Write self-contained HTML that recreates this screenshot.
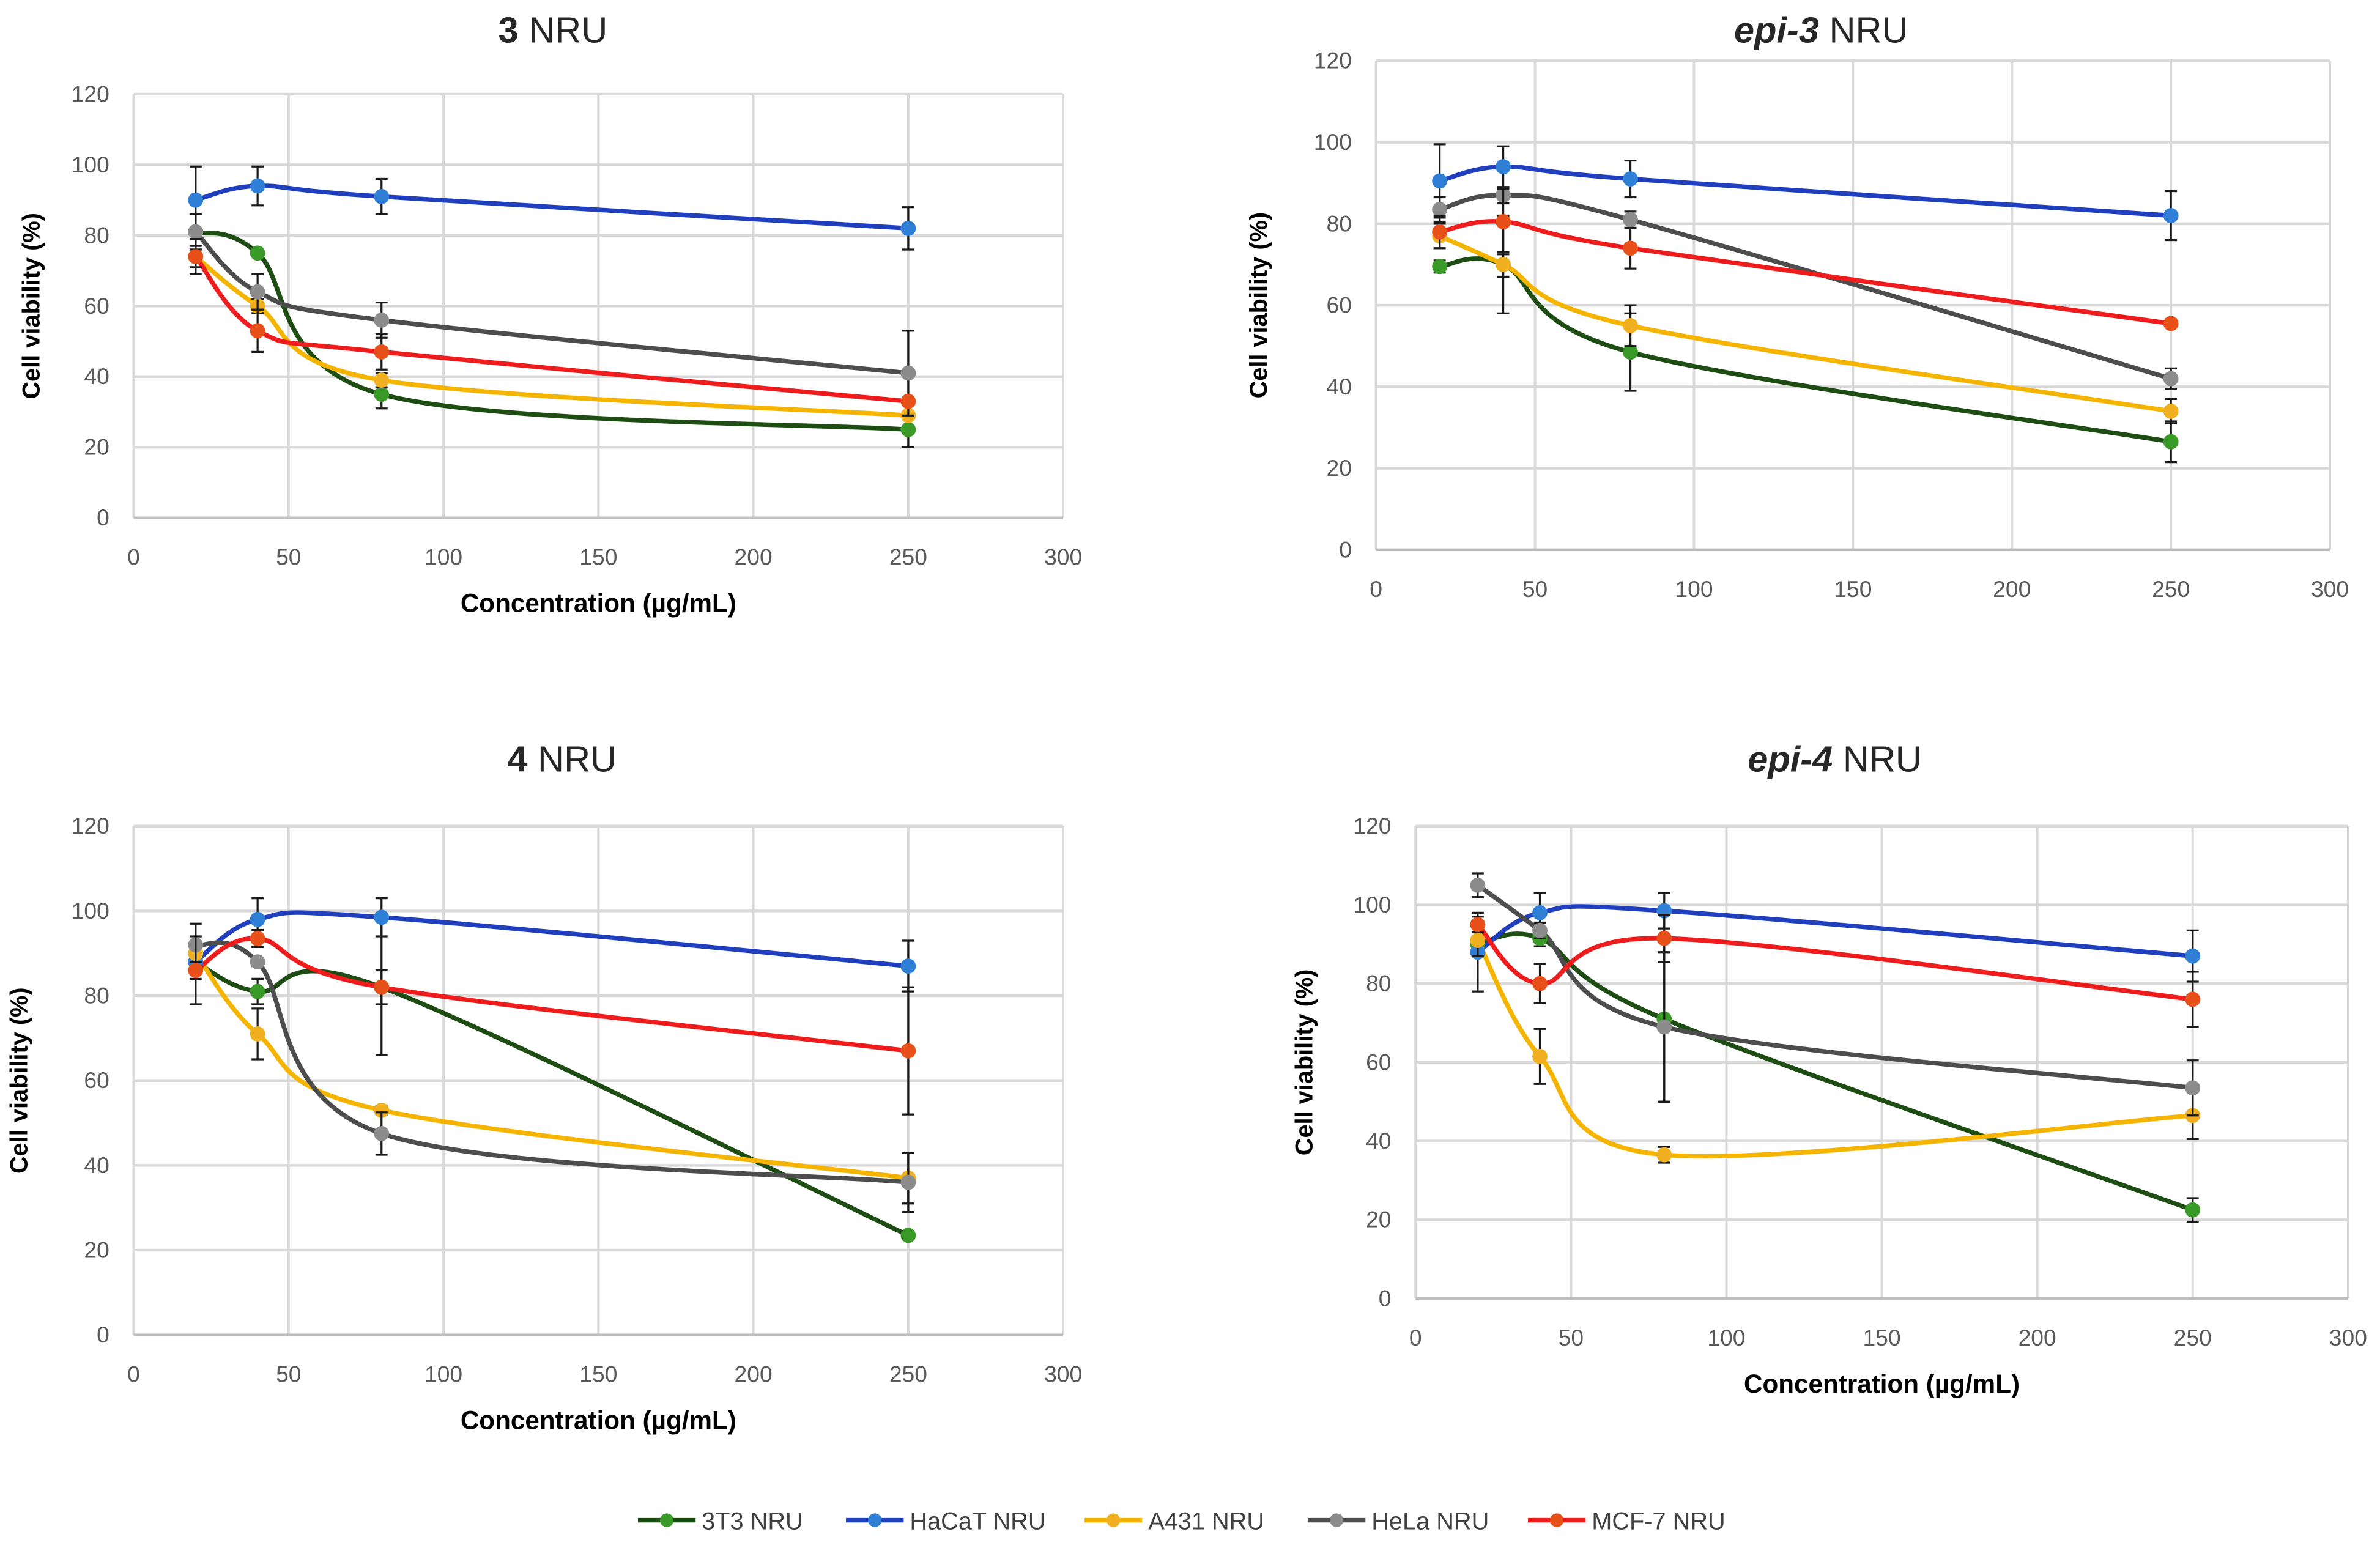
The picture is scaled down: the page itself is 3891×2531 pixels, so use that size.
<!DOCTYPE html>
<html><head><meta charset="utf-8"><style>
html,body{margin:0;padding:0;background:#fff;}
svg{display:block;}
text{font-family:"Liberation Sans",sans-serif;}
</style></head><body>
<svg id="fig" xmlns="http://www.w3.org/2000/svg" width="3891" height="2531" viewBox="0 0 1567 1019.3"></svg>
<script>
// ---- data (x = concentration µg/mL) ----
const concentrations = [20, 40, 80, 250];
const seriesNames = ["3T3 NRU", "HaCaT NRU", "A431 NRU", "HeLa NRU", "MCF-7 NRU"];
const xTicks = [0, 50, 100, 150, 200, 250, 300];
const yTicks = [0, 20, 40, 60, 80, 100, 120];

// chart "3"
const c3_3T3 = [81, 75, 35, 25];
const c3_HaCaT = [90, 94, 91, 82];
const c3_A431 = [74, 60, 39, 29];
const c3_HeLa = [81, 64, 56, 41];
const c3_MCF7 = [74, 53, 47, 33];
const c3_err_3T3 = [5, 1, 4, 5];
const c3_err_HaCaT = [9.5, 5.5, 5, 6];
const c3_err_A431 = [3, 2, 2, 1];
const c3_err_HeLa = [5, 5, 5, 12];
const c3_err_MCF7 = [5, 6, 5, 1];

// chart "epi-3"
const e3_3T3 = [69.5, 70, 48.5, 26.5];
const e3_HaCaT = [90.5, 94, 91, 82];
const e3_A431 = [77, 70, 55, 34];
const e3_HeLa = [83.5, 87, 81, 42];
const e3_MCF7 = [78, 80.5, 74, 55.5];
const e3_err_3T3 = [1.5, 12, 9.5, 5];
const e3_err_HaCaT = [9, 5, 4.5, 6];
const e3_err_A431 = [3, 3, 5, 3];
const e3_err_HeLa = [3, 2, 2, 2.5];
const e3_err_MCF7 = [4, 8, 5, 1];

// chart "4"
const c4_3T3 = [88, 81, 82, 23.5];
const c4_HaCaT = [88, 98, 98.5, 87];
const c4_A431 = [90, 71, 53, 37];
const c4_HeLa = [92, 88, 47.5, 36];
const c4_MCF7 = [86, 93.5, 82, 67];
const c4_err_3T3 = [2, 3, 16, 1];
const c4_err_HaCaT = [4, 5, 4.5, 6];
const c4_err_A431 = [2, 6, 1, 6];
const c4_err_HeLa = [5, 1, 5, 7];
const c4_err_MCF7 = [8, 2, 4, 15];

// chart "epi-4"
const e4_3T3 = [90, 91.5, 71, 22.5];
const e4_HaCaT = [88, 98, 98.5, 87];
const e4_A431 = [91, 61.5, 36.5, 46.5];
const e4_HeLa = [105, 93.5, 69, 53.5];
const e4_MCF7 = [95, 80, 91.5, 76];
const e4_err_3T3 = [2, 2, 21, 3];
const e4_err_HaCaT = [10, 5, 4.5, 6.5];
const e4_err_A431 = [4, 7, 2, 6];
const e4_err_HeLa = [3, 2, 19, 7];
const e4_err_MCF7 = [2, 5, 6, 7];

// ---- styles ----
const lineColors = ["#1e4d14", "#1f3fbf", "#f5b400", "#4d4d4d", "#ee1c1c"];
const markerColors = ["#3a9a28", "#2f7fd6", "#f0b020", "#8c8c8c", "#e8501a"];

const NS = "http://www.w3.org/2000/svg";
const fig = document.getElementById("fig");
function mk(tag, attrs, parent) {
  const e = document.createElementNS(NS, tag);
  for (const k in attrs) e.setAttribute(k, attrs[k]);
  (parent || fig).appendChild(e);
  return e;
}

const charts = [
  {id: "chart-3", bold: "3", italic: false, left: 88, right: 700, top: 62, bottom: 341, titleX: 364, titleY: 28, ylabX: 26, xlabY: 372, xtitleY: 403, xtitle: true,
   s: [c3_3T3, c3_HaCaT, c3_A431, c3_HeLa, c3_MCF7], e: [c3_err_3T3, c3_err_HaCaT, c3_err_A431, c3_err_HeLa, c3_err_MCF7]},
  {id: "chart-epi-3", bold: "epi-3", italic: true, left: 906, right: 1534, top: 40, bottom: 362, titleX: 1199, titleY: 28, ylabX: 834, xlabY: 393, xtitleY: 0, xtitle: false,
   s: [e3_3T3, e3_HaCaT, e3_A431, e3_HeLa, e3_MCF7], e: [e3_err_3T3, e3_err_HaCaT, e3_err_A431, e3_err_HeLa, e3_err_MCF7]},
  {id: "chart-4", bold: "4", italic: false, left: 88, right: 700, top: 544, bottom: 879, titleX: 370, titleY: 508, ylabX: 18, xlabY: 910, xtitleY: 941, xtitle: true,
   s: [c4_3T3, c4_HaCaT, c4_A431, c4_HeLa, c4_MCF7], e: [c4_err_3T3, c4_err_HaCaT, c4_err_A431, c4_err_HeLa, c4_err_MCF7]},
  {id: "chart-epi-4", bold: "epi-4", italic: true, left: 932, right: 1546, top: 544, bottom: 855, titleX: 1208, titleY: 508, ylabX: 864, xlabY: 886, xtitleY: 917, xtitle: true,
   s: [e4_3T3, e4_HaCaT, e4_A431, e4_HeLa, e4_MCF7], e: [e4_err_3T3, e4_err_HaCaT, e4_err_A431, e4_err_HeLa, e4_err_MCF7]}
];

function smoothPath(pts) {
  let d = "M" + pts[0][0] + "," + pts[0][1];
  for (let i = 0; i < pts.length - 1; i++) {
    const p0 = pts[i - 1] || pts[i], p1 = pts[i], p2 = pts[i + 1], p3 = pts[i + 2] || pts[i + 1];
    const t = 1 / 6;
    const c1x = p1[0] + (p2[0] - p0[0]) * t, c1y = p1[1] + (p2[1] - p0[1]) * t;
    const c2x = p2[0] - (p3[0] - p1[0]) * t, c2y = p2[1] - (p3[1] - p1[1]) * t;
    d += " C" + c1x + "," + c1y + " " + c2x + "," + c2y + " " + p2[0] + "," + p2[1];
  }
  return d;
}

charts.forEach(c => {
  const g = mk("g", {});
  
  
  const sx = v => c.left + (v - 0) / 300 * (c.right - c.left);
  const sy = v => c.bottom - v / 120 * (c.bottom - c.top);
  // title
  const t = mk("text", {x: c.titleX, y: c.titleY, "text-anchor": "middle", "font-size": 24, fill: "#262626"}, g);
  
  
  const tb = mk("tspan", {"font-weight": "bold"}, t);
  if (c.italic) tb.setAttribute("font-style", "italic");
  tb.textContent = c.bold;
  const tn = mk("tspan", {}, t); tn.textContent = " NRU";
  // grid
  xTicks.forEach(v => {
    const l = mk("line", {x1: sx(v), x2: sx(v), y1: c.top, y2: c.bottom, stroke: "#d9d9d9", "stroke-width": 1.6}, g);
    
    
    const tx = mk("text", {x: sx(v), y: c.xlabY, "text-anchor": "middle", "font-size": 15, fill: "#595959"}, g);
    
    
    tx.textContent = v;
  });
  yTicks.forEach(v => {
    const l = mk("line", {x1: c.left, x2: c.right, y1: sy(v), y2: sy(v), stroke: v === 0 ? "#bfbfbf" : "#d9d9d9", "stroke-width": 1.8}, g);
    
    
    const ty = mk("text", {x: c.left - 16, y: sy(v) + 5, "text-anchor": "end", "font-size": 15, fill: "#595959"}, g);
    
    
    ty.textContent = v;
  });
  // axis titles
  const yc = (c.top + c.bottom) / 2;
  const yt = mk("text", {x: c.ylabX, y: yc, "text-anchor": "middle", "font-size": 16, "font-weight": "bold", fill: "#000", transform: "rotate(-90 " + c.ylabX + " " + yc + ")"}, g);
  
  
  yt.textContent = "Cell viability (%)";
  if (c.xtitle) {
    const xt = mk("text", {x: (c.left + c.right) / 2, y: c.xtitleY, "text-anchor": "middle", "font-size": 17, "font-weight": "bold", fill: "#000"}, g);
    
    
    xt.textContent = "Concentration (µg/mL)";
  }
  // series lines
  c.s.forEach((vals, si) => {
    const pts = vals.map((v, i) => [sx(concentrations[i]), sy(v)]);
    const p = mk("path", {d: smoothPath(pts), fill: "none", stroke: lineColors[si], "stroke-width": 3, "stroke-linejoin": "round"}, g);
    
    
  });
  // error bars and markers
  c.s.forEach((vals, si) => {
    vals.forEach((v, i) => {
      const x = sx(concentrations[i]), er = c.e[si][i];
      const y1 = sy(v + er), y2 = sy(v - er);
      const eb = mk("path", {d: "M" + x + "," + y1 + "V" + y2 + "M" + (x - 4) + "," + y1 + "h8M" + (x - 4) + "," + y2 + "h8", stroke: "#1a1a1a", "stroke-width": 1.3, fill: "none"}, g);
      
      
      const m = mk("circle", {cx: x, cy: sy(v), r: 5, fill: markerColors[si]}, g);
      
      
    });
  });
});

// legend
const legendX = [420, 557, 714, 861, 1006];
const lg = mk("g", {});


seriesNames.forEach((n, i) => {
  const eg = mk("g", {}, lg);
  
  
  mk("line", {x1: legendX[i], x2: legendX[i] + 38, y1: 1001, y2: 1001, stroke: lineColors[i], "stroke-width": 3}, eg);
  mk("circle", {cx: legendX[i] + 19, cy: 1001, r: 4.5, fill: markerColors[i]}, eg);
  const tx = mk("text", {x: legendX[i] + 42, y: 1007, "font-size": 16, fill: "#404040"}, eg);
  tx.textContent = n;
});
</script>
</body></html>
